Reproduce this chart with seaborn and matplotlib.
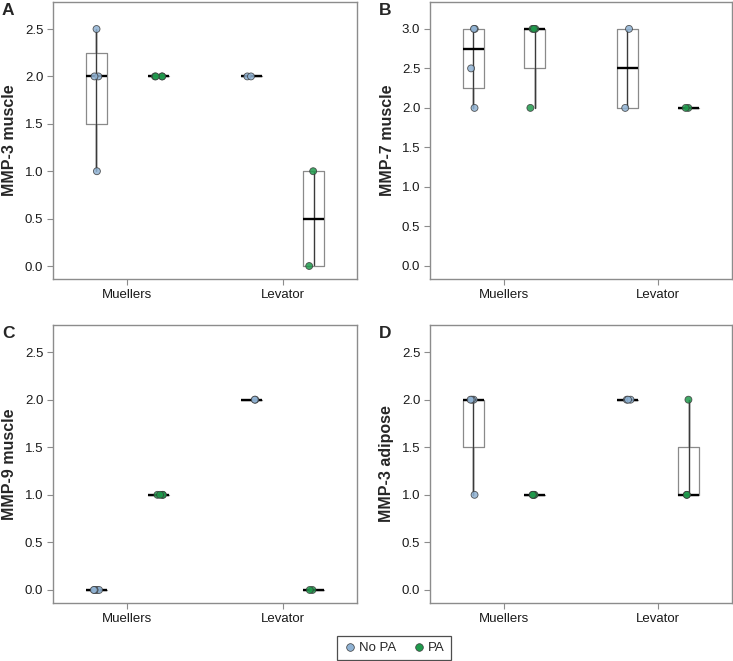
import numpy as np
import pandas as pd
import matplotlib
matplotlib.use('Agg')
import matplotlib.pyplot as plt
from matplotlib.lines import Line2D
import seaborn as sns

sns.set_style('ticks')
plt.rcParams['font.family'] = ['Liberation Sans', 'DejaVu Sans']

# categories
sites = ['Muellers', 'Levator']
groups = ['No PA', 'PA']

# scores per panel, keyed by (site, group)
mmp3_muscle = {
    ('Muellers', 'No PA'): [1, 2, 2, 2.5],
    ('Muellers', 'PA'): [2, 2, 2, 2],
    ('Levator', 'No PA'): [2, 2],
    ('Levator', 'PA'): [0, 1],
}
mmp7_muscle = {
    ('Muellers', 'No PA'): [2, 2.5, 3, 3],
    ('Muellers', 'PA'): [2, 3, 3, 3],
    ('Levator', 'No PA'): [2, 3],
    ('Levator', 'PA'): [2, 2],
}
mmp9_muscle = {
    ('Muellers', 'No PA'): [0, 0, 0, 0],
    ('Muellers', 'PA'): [1, 1, 1, 1],
    ('Levator', 'No PA'): [2, 2],
    ('Levator', 'PA'): [0, 0],
}
mmp3_adipose = {
    ('Muellers', 'No PA'): [1, 2, 2, 2],
    ('Muellers', 'PA'): [1, 1, 1, 1],
    ('Levator', 'No PA'): [2, 2, 2],
    ('Levator', 'PA'): [1, 1, 2],
}

panels = [
    ('A', 'MMP-3 muscle', mmp3_muscle, (-0.137, 2.785), [0, 0.5, 1, 1.5, 2, 2.5]),
    ('B', 'MMP-7 muscle', mmp7_muscle, (-0.165, 3.34), [0, 0.5, 1, 1.5, 2, 2.5, 3]),
    ('C', 'MMP-9 muscle', mmp9_muscle, (-0.137, 2.785), [0, 0.5, 1, 1.5, 2, 2.5]),
    ('D', 'MMP-3 adipose', mmp3_adipose, (-0.137, 2.785), [0, 0.5, 1, 1.5, 2, 2.5]),
]

palette = {'No PA': '#8fb2d3', 'PA': '#1f9a4c'}
frame_col = '#8c8c8c'


def fivenum(v):
    # Tukey five-number summary (like R's boxplot hinges)
    v = np.sort(np.asarray(v, dtype=float))
    n = len(v)
    n4 = np.floor((n + 3) / 2) / 2
    d = np.array([1, n4, (n + 1) / 2, n + 1 - n4, n]) - 1
    return 0.5 * (v[np.floor(d).astype(int)] + v[np.ceil(d).astype(int)])


W, H = 733, 661
fig = plt.figure(figsize=(W / 100, H / 100), dpi=100)

# axes boxes in pixels: left, top, right, bottom
boxes = [(53, 2, 357, 279), (430, 2, 732, 279), (53, 325, 357, 603), (430, 325, 732, 603)]
np.random.seed(3)

for (letter, ylab, data, ylim, yticks), (l, t, r, b) in zip(panels, boxes):
    ax = fig.add_axes([l / W, 1 - b / H, (r - l) / W, (b - t) / H])

    rows = []
    for (site, grp), vals in data.items():
        for v in vals:
            rows.append({'site': site, 'group': grp, 'value': v})
    df = pd.DataFrame(rows)

    # boxes: whisker line from min to max through box, hinges, median
    stats, pos = [], []
    for (site, grp), vals in data.items():
        mn, q1, med, q3, mx = fivenum(vals)
        p = sites.index(site) + (-0.2 if grp == 'No PA' else 0.2)
        stats.append(dict(whislo=mn, q1=q1, med=med, q3=q3, whishi=mx, fliers=[]))
        pos.append(p)
        ax.vlines(p, mn, mx, color='#3a3a3a', lw=1.0, zorder=2)
    ax.bxp(stats, positions=pos, widths=0.135, showcaps=False, showfliers=False,
           manage_ticks=False,
           boxprops=dict(color='#8a8a8a', lw=0.9),
           whiskerprops=dict(color='#3a3a3a', lw=1.0),
           medianprops=dict(color='black', lw=1.7, solid_capstyle='butt'),
           zorder=2)

    sns.stripplot(data=df, x='site', y='value', hue='group', order=sites,
                  hue_order=groups, palette=palette, dodge=True, jitter=0.06,
                  size=5, edgecolor='#3a3a3a', linewidth=0.6, alpha=0.85,
                  legend=False, ax=ax, zorder=3)

    ax.set_xlim(-0.48, 1.48)
    ax.set_ylim(*ylim)
    ax.set_yticks(yticks)
    ax.set_yticklabels([f'{v:.1f}' for v in yticks])
    ax.set_xlabel('')
    ax.set_ylabel('')
    for sp in ax.spines.values():
        sp.set_visible(True)
        sp.set_color(frame_col)
        sp.set_linewidth(1.0)
    ax.tick_params(axis='both', direction='out', length=4, width=0.8,
                   color=frame_col, labelsize=9.5, labelcolor='#1a1a1a', pad=3)

    # ylabel and panel letter
    fig.text((l - 43) / W, 1 - ((t + b) / 2) / H, ylab, rotation=90,
             ha='center', va='center', fontsize=11.5, fontweight='bold')
    fig.text((l - 51) / W, 1 - (t + 1) / H, letter, ha='left', va='top',
             fontsize=12.5, fontweight='bold')

handles = [Line2D([], [], marker='o', ls='', markersize=5.5,
                  markerfacecolor=palette[g], markeredgecolor='#3a3a3a',
                  markeredgewidth=0.5, label=g) for g in groups]
leg = fig.legend(handles=handles, loc='center', bbox_to_anchor=(394 / W, 1 - 648 / H),
                 ncol=2, frameon=True, fancybox=False, fontsize=9.5,
                 handletextpad=0.2, columnspacing=1.2, borderpad=0.45,
                 handlelength=1.0)
leg.get_frame().set_edgecolor('#222222')
leg.get_frame().set_linewidth(0.9)

fig.savefig('out.png', dpi=100)
